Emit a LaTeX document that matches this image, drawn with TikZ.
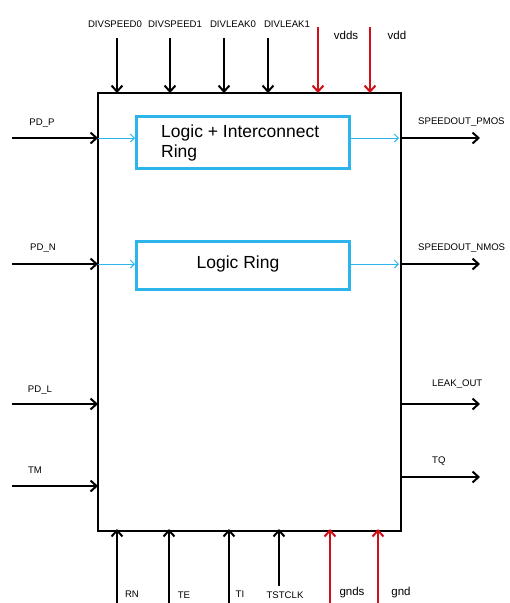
\documentclass[tikz,border=0pt]{standalone}
\usepackage{fontspec}
\setmainfont{Liberation Sans}
\usetikzlibrary{arrows.meta}
\definecolor{cy}{HTML}{2BB5EA}
\definecolor{rd}{HTML}{D01018}
\begin{document}
\begin{tikzpicture}[x=1pt,y=-1pt,
  sig/.style={line width=2pt,-{Straight Barb[length=6pt,width=11pt,line width=2pt]}},
  pwr/.style={sig,draw=rd},
  bl/.style={draw=cy,line width=1pt,-{Straight Barb[length=4pt,width=8pt,line width=1pt]}},
  lbl/.style={font=\fontsize{9.6}{10}\selectfont,inner sep=0pt},
  plbl/.style={font=\fontsize{11.5}{12}\selectfont,inner sep=0pt},
  ring/.style={draw=cy,line width=2.5pt,inner sep=0pt}]
\useasboundingbox (0,0) rectangle (510,603);
% main box
\node[draw,line width=2.2pt,minimum width=303pt,minimum height=438pt,inner sep=0pt,anchor=north west] (M) at (97,92) {};
% rings
\node[ring,minimum width=213pt,minimum height=52pt,anchor=north west] (R1) at (135,115) {};
\node[font=\fontsize{17.5}{20}\selectfont,align=left,anchor=base west,inner sep=0pt] (R1t) at (161,157) {Logic + Interconnect\\Ring};
\node[ring,minimum width=213pt,minimum height=48pt,anchor=north west] (R2) at (135,240) {};
\node[font=\fontsize{17.5}{20}\selectfont,inner sep=0pt,anchor=base] (R2t) at (238,268) {Logic Ring};
% top inputs
\foreach \x/\n/\t/\lx in {117/ds0/DIVSPEED0/115,170/ds1/DIVSPEED1/175,224/dl0/DIVLEAK0/233,268/dl1/DIVLEAK1/287}{
  \coordinate (\n s) at (\x,38);
  \coordinate (\n e) at (\x,93);
  \draw[sig] (\n s) -- (\n e);
  \node[lbl] (\n l) at (\lx,24) {\t};
}
\foreach \x/\n/\t/\lx in {318/vdds/vdds/346,370/vdd/vdd/397}{
  \coordinate (\n s) at (\x,27);
  \coordinate (\n e) at (\x,93);
  \draw[pwr] (\n s) -- (\n e);
  \node[plbl] (\n l) at (\lx,35) {\t};
}
% left inputs
\foreach \y/\n in {138/pdp,264/pdn,404/pdl,486/tm}{
  \coordinate (\n s) at (12,\y);
  \coordinate (\n e) at (98,\y);
  \draw[sig] (\n s) -- (\n e);
}
\node[lbl] (pdpl) at (42,123) {PD\_P};
\node[lbl] (pdnl) at (43,248) {PD\_N};
\node[lbl] (pdll) at (40,390) {PD\_L};
\node[lbl] (tml) at (35,470) {TM};
% blue internal
\coordinate (bi1) at (98,138);
\coordinate (bi2) at (98,264);
\coordinate (bo1) at (399,138);
\coordinate (bo2) at (399,264);
\draw[bl] (bi1) -- (R1.west|-bi1);
\draw[bl] (bi2) -- (R2.west|-bi2);
\draw[bl] (R1.east|-bo1) -- (bo1);
\draw[bl] (R2.east|-bo2) -- (bo2);
% right outputs
\foreach \y/\n in {138/spp,264/spn,404/lko,477/tq}{
  \coordinate (\n s) at (400,\y);
  \coordinate (\n e) at (480,\y);
  \draw[sig] (\n s) -- (\n e);
}
\node[lbl,anchor=west] (sppl) at (418,122) {SPEEDOUT\_PMOS};
\node[lbl,anchor=west] (spnl) at (418,248) {SPEEDOUT\_NMOS};
\node[lbl,anchor=west] (lkol) at (432,384) {LEAK\_OUT};
\node[lbl,anchor=west] (tql) at (432,461) {TQ};
% bottom inputs
\foreach \x/\ys/\n in {117/603/rn,169/603/te,229/603/ti,279/586/tck}{
  \coordinate (\n s) at (\x,\ys);
  \coordinate (\n e) at (\x,529);
  \draw[sig] (\n s) -- (\n e);
}
\node[lbl] (rnl) at (132,594) {RN};
\node[lbl] (tel) at (184,595) {TE};
\node[lbl] (til) at (240,594) {TI};
\node[lbl] (tckl) at (285,595) {TSTCLK};
\foreach \x/\n in {330/gnds,378/gnd}{
  \coordinate (\n s) at (\x,603);
  \coordinate (\n e) at (\x,529);
  \draw[pwr] (\n s) -- (\n e);
}
\node[plbl] (gndsl) at (352,593) {gnds};
\node[plbl] (gndl) at (401,593) {gnd};
\end{tikzpicture}
\end{document}
